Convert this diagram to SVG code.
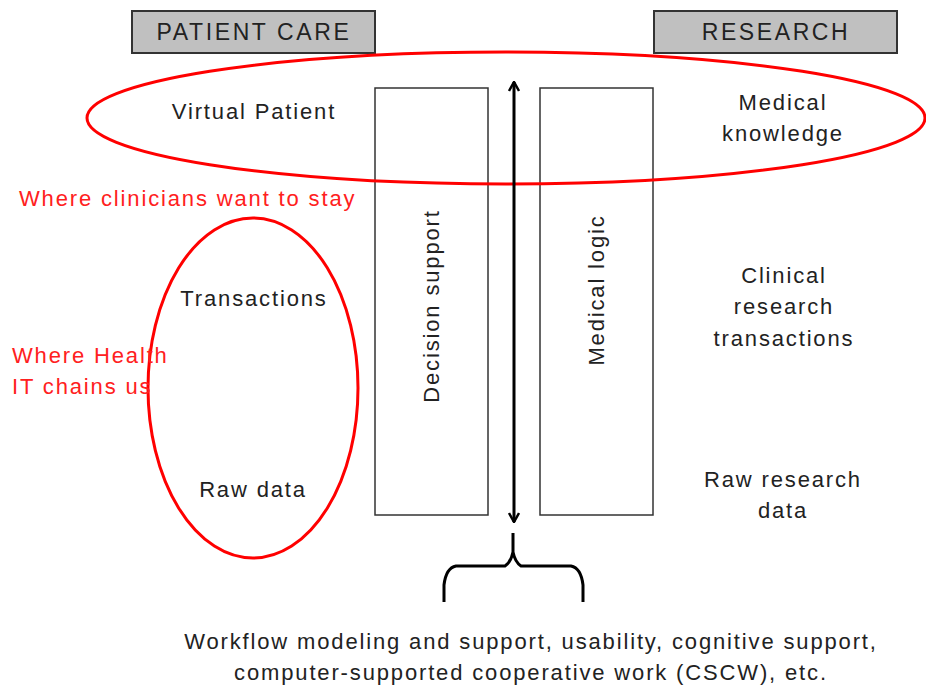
<svg xmlns="http://www.w3.org/2000/svg" width="926" height="687" viewBox="0 0 926 687">
<defs>
<marker id="ah" viewBox="0 0 12 12" refX="11" refY="6" markerWidth="12" markerHeight="12" markerUnits="userSpaceOnUse" orient="auto-start-reverse">
<path d="M2,1 L11,6 L2,11" fill="none" stroke="#000" stroke-width="2.5"/>
</marker>
<style>
text{font-family:"Liberation Sans",Arial,sans-serif;font-size:22px;fill:#222;letter-spacing:1.85px;}
.c{text-anchor:middle;}
.red{fill:#ff2020;}
.h{font-size:23px;letter-spacing:2.6px;}
.hdr{fill:#c0c0c0;stroke:#333;stroke-width:2;}
.col{fill:#fff;stroke:#333;stroke-width:1.5;}
.ell{fill:none;stroke:#ff0000;stroke-width:3;}
</style>
</defs>
<rect width="926" height="687" fill="#fff"/>
<g id="patient-care"><rect class="hdr" x="132" y="11" width="243" height="42"/><text class="c h" x="254" y="40">PATIENT CARE</text></g>
<g id="research"><rect class="hdr" x="654" y="11" width="243" height="42"/><text class="c h" x="776" y="40">RESEARCH</text></g>
<g id="decision-support"><rect class="col" x="375" y="88" width="113" height="427"/><text class="c" transform="translate(439,306) rotate(-90)">Decision support</text></g>
<g id="medical-logic"><rect class="col" x="540" y="88" width="113" height="427"/><text class="c" transform="translate(604,290) rotate(-90)">Medical logic</text></g>
<g id="top-ellipse"><ellipse class="ell" cx="506" cy="118" rx="419" ry="66"/></g>
<g id="left-ellipse"><ellipse class="ell" cx="253" cy="388" rx="105" ry="170"/></g>
<g id="virtual-patient"><text class="c" x="254" y="119">Virtual Patient</text></g>
<g id="medical-knowledge"><text class="c" x="783" y="110">Medical</text><text class="c" x="783" y="141">knowledge</text></g>
<g id="clinicians-stay"><text class="red" x="19" y="206">Where clinicians want to stay</text></g>
<g id="transactions"><text class="c" x="254" y="306">Transactions</text></g>
<g id="health-it"><text class="red" x="12" y="363">Where Health</text><text class="red" x="12" y="394">IT chains us</text></g>
<g id="raw-data"><text class="c" x="253" y="497">Raw data</text></g>
<g id="clinical-research"><text class="c" x="784" y="283">Clinical</text><text class="c" x="784" y="314">research</text><text class="c" x="784" y="346">transactions</text></g>
<g id="raw-research"><text class="c" x="783" y="487">Raw research</text><text class="c" x="783" y="518">data</text></g>
<g id="connectors">
<line x1="514" y1="82" x2="514" y2="522" stroke="#000" stroke-width="3" marker-start="url(#ah)" marker-end="url(#ah)"/>
<path d="M444,602 L444,585 Q446,568 456,566 L505,566 Q511,562 513,552 L513,533 M513,552 Q515,562 521,566 L571,566 Q581,568 583,585 L583,602" fill="none" stroke="#000" stroke-width="3"/>
</g>
<g id="footer"><text class="c" x="531" y="649">Workflow modeling and support, usability, cognitive support,</text><text class="c" x="531" y="680">computer-supported cooperative work (CSCW), etc.</text></g>
</svg>
